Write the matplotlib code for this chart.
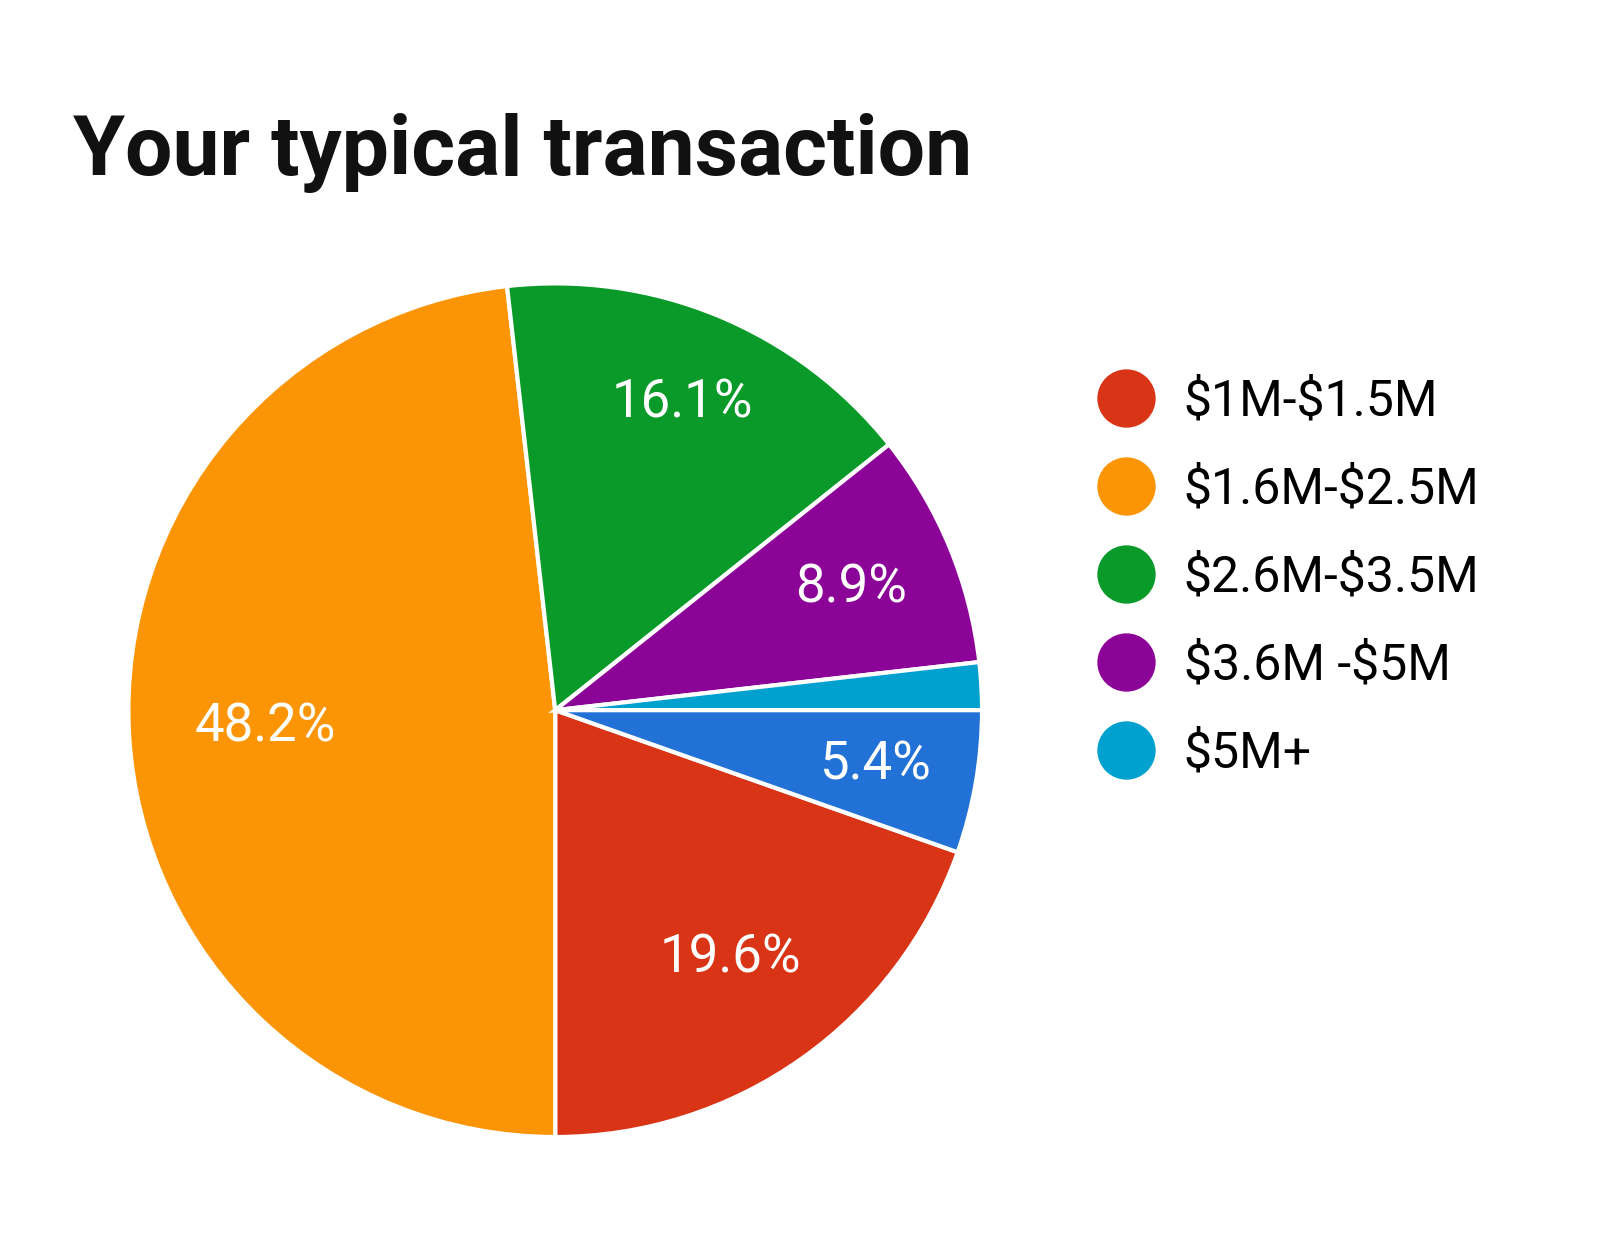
import matplotlib
matplotlib.use('Agg')
import numpy as np
import matplotlib.pyplot as plt
from matplotlib.lines import Line2D

# dados do gráfico (ordem no sentido horário)
categorias = ['$1M-$1.5M', '$1.6M-$2.5M', '$2.6M-$3.5M', '$3.6M -$5M', '$5M+', 'Outro']
percentuais = [19.6, 48.2, 16.1, 8.9, 1.8, 5.4]
cores = ['#D93415', '#FB9505', '#0A9A2A', '#8B0497', '#00A0CF', '#2171D6']
legenda_n = 5  # só as cinco primeiras aparecem na legenda

plt.rcParams['font.family'] = ['Roboto', 'DejaVu Sans']
plt.rcParams['text.parse_math'] = False  # os "$" são texto normal

fig = plt.figure(figsize=(16, 12.59), dpi=100)
fig.patch.set_facecolor('white')

ax = fig.add_axes([0.08, 0.0969, 0.534, 0.678])


def rotulo(p):
    return f'{p:.1f}%' if p >= 5 else ''


# a última fatia termina exatamente às 3 horas
wedges, textos, autotextos = ax.pie(
    percentuais, colors=cores, startangle=-percentuais[-1] * 3.6,
    counterclock=False, autopct=rotulo, pctdistance=0.73,
    wedgeprops=dict(edgecolor='white', linewidth=3),
    textprops=dict(color='white', fontsize=38))
for w in wedges:
    w.set_clip_on(False)

# distância de cada rótulo ao centro (como no original)
dist = [0.71, 0.68, 0.78, 0.75, 0.7, 0.76]
for w, t, d in zip(wedges, autotextos, dist):
    ang = np.deg2rad((w.theta1 + w.theta2) / 2)
    t.set_position((d * np.cos(ang), d * np.sin(ang)))

ax.set_xlim(-1, 1)
ax.set_ylim(-1, 1)
ax.set_aspect('equal')

fig.text(73 / 1600, 1 - 175 / 1259, 'Your typical transaction',
         fontsize=60.6, fontweight='bold', color='#111111', va='baseline')

handles = [Line2D([], [], marker='o', linestyle='none', markersize=41,
                  markerfacecolor=c, markeredgecolor=c)
           for c in cores[:legenda_n]]
fig.legend(handles, categorias[:legenda_n], loc='upper left',
           bbox_to_anchor=(1071 / 1600, 1 - 352 / 1259), frameon=False,
           fontsize=36, labelspacing=0.8, handletextpad=0.55,
           handlelength=1.2, borderpad=0)

fig.savefig('out.png', dpi=100, facecolor='white')
